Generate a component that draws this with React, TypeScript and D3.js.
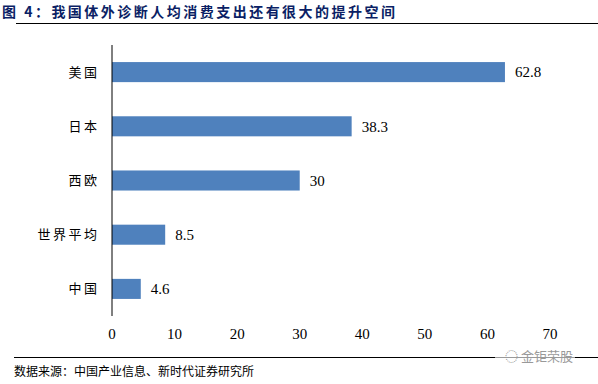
import React from "react";
import * as d3 from "d3";

const categories = ["美国", "日本", "西欧", "世界平均", "中国"];
const values = [62.8, 38.3, 30, 8.5, 4.6];
const xTicks = [0, 10, 20, 30, 40, 50, 60, 70];
const title = "图 4：我国体外诊断人均消费支出还有很大的提升空间";
const source = "数据来源：中国产业信息、新时代证券研究所";
const watermark = "金钜荣股";

export default function App() {
  const W = 598, H = 384;
  const x = d3.scaleLinear().domain([0, 70]).range([112, 550]);
  const y = d3.scaleBand().domain(categories).range([45, 316]).paddingInner(0.63).paddingOuter(0.315);
  const serif = "SimSun, 'Noto Sans CJK SC', serif";
  const tnr = "'Liberation Serif', 'Times New Roman', serif";
  return (
    <svg width={W} height={H} style={{ position: "absolute", left: 0, top: 0, background: "#fff" }}>
      <text x={2} y={17} fontSize={14} fontWeight="bold" fill="#0B1F65" fontFamily="'Noto Sans CJK SC', sans-serif" textLength={393} lengthAdjust="spacing">{title}</text>
      <line x1={16} x2={598} y1={23.5} y2={23.5} stroke="#000" strokeWidth={1} />
      {categories.map((c, i) => (
        <g key={c}>
          <rect x={x(0)} y={y(c)!} width={x(values[i]) - x(0)} height={y.bandwidth()} fill="#4F81BD" />
          <text x={x(values[i]) + 10} y={y(c)! + y.bandwidth() / 2} dy="0.35em" fontSize={15} fontFamily={tnr} fill="#000">{values[i]}</text>
          <text x={97} y={y(c)! + y.bandwidth() / 2} dy="0.35em" fontSize={13} textAnchor="end" fontFamily={serif} fill="#000" textLength={c.length * 15.5 - 2.5} lengthAdjust="spacing">{c}</text>
        </g>
      ))}
      <line x1={x(0)} x2={x(0)} y1={45} y2={316} stroke="#000" strokeWidth={1} />
      {xTicks.map(t => (
        <text key={t} x={x(t)} y={334} dy="0.35em" textAnchor="middle" fontSize={15} fontFamily={tnr} fill="#000">{t}</text>
      ))}
      <line x1={14} x2={598} y1={357.5} y2={357.5} stroke="#000" strokeWidth={1} />
      <rect x={495} y={348} width={80} height={16} fill="#fff" opacity={0.6} />
      <text x={505} y={361} fontSize={13} fill="#999" fontFamily="'Noto Sans CJK SC', sans-serif">◌ {watermark}</text>
      <text x={14} y={376} fontSize={12} fill="#000" fontFamily={serif}>{source}</text>
    </svg>
  );
}
